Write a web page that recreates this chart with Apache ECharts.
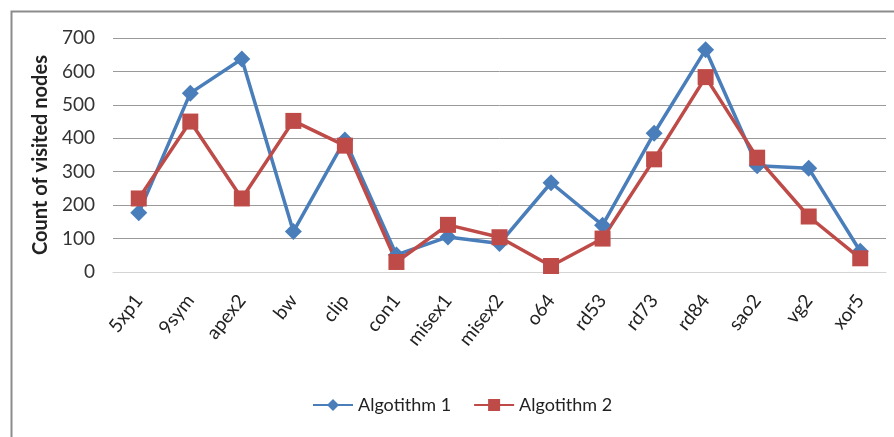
<!DOCTYPE html>
<html>
<head>
<meta charset="utf-8">
<script src="https://cdn.jsdelivr.net/npm/echarts@6/dist/echarts.min.js"></script>
<style>html,body{margin:0;padding:0;background:#fff}#c{width:894px;height:437px}</style>
</head>
<body>
<div id="c"></div>
<script>
const categories = ['5xp1','9sym','apex2','bw','clip','con1','misex1','misex2','o64','rd53','rd73','rd84','sao2','vg2','xor5'];
const algo1 = [177, 535, 637, 121, 395, 51, 105, 85, 267, 140, 415, 665, 318, 310, 62];
const algo2 = [220, 450, 220, 452, 378, 30, 141, 104, 18, 100, 337, 583, 342, 166, 41];
const yTicks = [0, 100, 200, 300, 400, 500, 600, 700];

const font = 'Lato, "Open Sans", sans-serif';
const chart = echarts.init(document.getElementById('c'), null, {renderer: 'canvas'});
chart.setOption({
  animation: false,
  backgroundColor: '#fff',
  graphic: [{
    type: 'rect', left: 9, top: 9,
    shape: {width: 1000, height: 1000},
    style: {fill: 'none', stroke: '#8c8c8c', lineWidth: 2}
  }],
  grid: {left: 113, right: 8, top: 38, bottom: 165},
  legend: {
    left: 307, top: 391,
    itemWidth: 40, itemHeight: 15, itemGap: 22,
    textStyle: {fontFamily: font, fontSize: 18, color: '#222'},
    data: ['Algotithm 1', 'Algotithm 2']
  },
  xAxis: {
    type: 'category', data: categories, boundaryGap: true,
    axisLine: {lineStyle: {color: '#d4d4d4', width: 1}},
    axisTick: {show: false},
    axisLabel: {rotate: 52, fontSize: 19, color: '#222', fontFamily: font, margin: 25}
  },
  yAxis: {
    type: 'value', min: yTicks[0], max: yTicks[yTicks.length - 1], interval: 100,
    name: 'Count of visited nodes', nameLocation: 'middle', nameGap: 55,
    nameTextStyle: {fontFamily: font, fontWeight: 'bold', fontSize: 20, color: '#222'},
    axisLine: {show: false}, axisTick: {show: false},
    axisLabel: {fontSize: 19, color: '#333', fontFamily: font, margin: 18},
    splitLine: {lineStyle: {color: '#9a9a9a', width: 1}}
  },
  series: [{
    name: 'Algotithm 1', type: 'line', data: algo1,
    symbol: 'diamond', symbolSize: 17,
    lineStyle: {color: '#4a7ebb', width: 3.5},
    itemStyle: {color: '#4a7ebb'}
  }, {
    name: 'Algotithm 2', type: 'line', data: algo2,
    symbol: 'rect', symbolSize: 16,
    lineStyle: {color: '#be4b48', width: 3.5},
    itemStyle: {color: '#be4b48'}
  }]
});
</script>
</body>
</html>
